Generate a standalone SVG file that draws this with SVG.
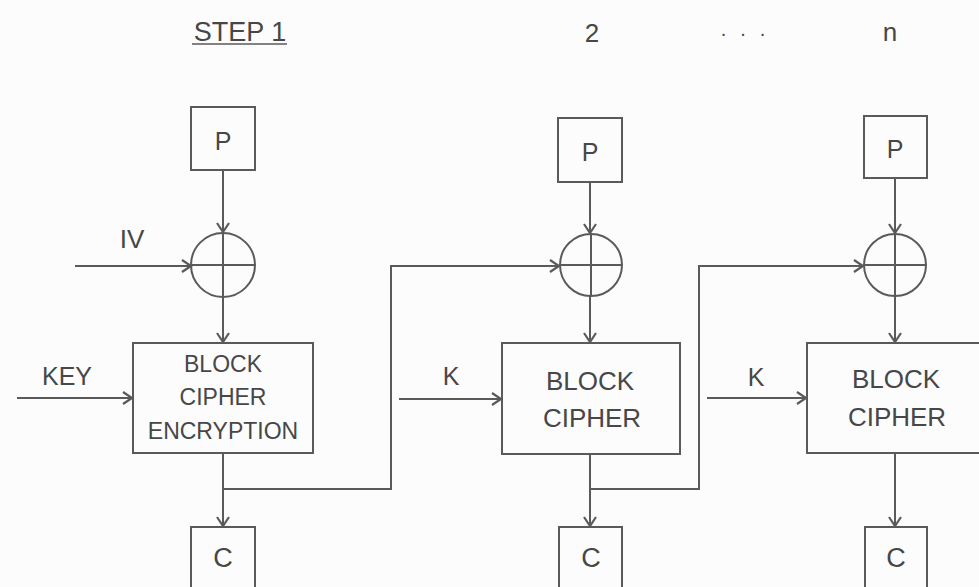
<svg xmlns="http://www.w3.org/2000/svg" width="979" height="587" viewBox="0 0 979 587">
<style>
.bx{fill:none;stroke:#5a5a5a;stroke-width:2}
.ln{fill:none;stroke:#5a5a5a;stroke-width:2}
.t{font-family:"Liberation Sans",Arial,sans-serif;fill:#474747;text-anchor:middle}
</style>
<defs>
<marker id="ah" markerUnits="userSpaceOnUse" markerWidth="14" markerHeight="14" refX="10" refY="7" orient="auto">
<path d="M1,1 L10,7 L1,13" fill="none" stroke="#5a5a5a" stroke-width="2.2"/>
</marker>
</defs>
<rect width="979" height="587" fill="#fcfcfc"/>
<g id="headers">
<text class="t" x="240" y="41" font-size="27">STEP 1</text>
<line x1="192" y1="44" x2="287" y2="44" stroke="#5a5a5a" stroke-width="1.5"/>
<text class="t" x="592" y="42" font-size="26">2</text>
<text class="t" x="750" y="36" font-size="20" letter-spacing="14">...</text>
<text class="t" x="890" y="41" font-size="26">n</text>
</g>
<g id="p1"><rect class="bx" x="191" y="107" width="64" height="63"/><text class="t" x="223" y="150" font-size="25">P</text></g>
<g id="p2"><rect class="bx" x="558" y="118" width="64" height="64"/><text class="t" x="590" y="161" font-size="25">P</text></g>
<g id="p3"><rect class="bx" x="864" y="116" width="63" height="62"/><text class="t" x="895" y="158" font-size="25">P</text></g>
<g id="x1"><circle class="bx" cx="223" cy="265" r="32"/><line class="ln" x1="191" y1="265" x2="255" y2="265"/><line class="ln" x1="223" y1="233" x2="223" y2="297"/></g>
<g id="x2"><circle class="bx" cx="591" cy="265" r="31"/><line class="ln" x1="560" y1="265" x2="622" y2="265"/><line class="ln" x1="591" y1="234" x2="591" y2="296"/></g>
<g id="x3"><circle class="bx" cx="895" cy="265" r="31"/><line class="ln" x1="864" y1="265" x2="926" y2="265"/><line class="ln" x1="895" y1="234" x2="895" y2="296"/></g>
<g id="b1"><rect class="bx" x="133" y="343" width="180" height="110"/>
<text class="t" x="223" y="372" font-size="23">BLOCK</text>
<text class="t" x="223" y="405" font-size="23">CIPHER</text>
<text class="t" x="223" y="439" font-size="23">ENCRYPTION</text></g>
<g id="b2"><rect class="bx" x="502" y="343" width="178" height="111"/>
<text class="t" x="590" y="390" font-size="26">BLOCK</text>
<text class="t" x="592" y="427" font-size="26">CIPHER</text></g>
<g id="b3"><rect class="bx" x="807" y="343" width="180" height="110"/>
<text class="t" x="896" y="388" font-size="26">BLOCK</text>
<text class="t" x="897" y="426" font-size="26">CIPHER</text></g>
<g id="c1"><rect class="bx" x="191" y="527" width="64" height="70"/><text class="t" x="223" y="567" font-size="27">C</text></g>
<g id="c2"><rect class="bx" x="559" y="527" width="63" height="70"/><text class="t" x="591" y="567" font-size="27">C</text></g>
<g id="c3"><rect class="bx" x="865" y="527" width="62" height="70"/><text class="t" x="896" y="567" font-size="27">C</text></g>
<g id="labels">
<text class="t" x="132" y="248" font-size="26">IV</text>
<text class="t" x="67" y="385" font-size="25">KEY</text>
<text class="t" x="451" y="385" font-size="25">K</text>
<text class="t" x="756" y="386" font-size="25">K</text>
</g>
<g id="connectors">
<line class="ln" x1="223" y1="170" x2="223" y2="232" marker-end="url(#ah)"/>
<line class="ln" x1="75" y1="266" x2="191" y2="266" marker-end="url(#ah)"/>
<line class="ln" x1="223" y1="297" x2="223" y2="342" marker-end="url(#ah)"/>
<line class="ln" x1="17" y1="398" x2="132" y2="398" marker-end="url(#ah)"/>
<line class="ln" x1="223" y1="453" x2="223" y2="526" marker-end="url(#ah)"/>
<polyline class="ln" points="223,489 391,489 391,266 559,266" marker-end="url(#ah)"/>
<line class="ln" x1="590" y1="182" x2="590" y2="233" marker-end="url(#ah)"/>
<line class="ln" x1="590" y1="296" x2="590" y2="342" marker-end="url(#ah)"/>
<line class="ln" x1="399" y1="399" x2="501" y2="399" marker-end="url(#ah)"/>
<line class="ln" x1="590" y1="454" x2="590" y2="526" marker-end="url(#ah)"/>
<polyline class="ln" points="590,489 699,489 699,266 863,266" marker-end="url(#ah)"/>
<line class="ln" x1="895" y1="178" x2="895" y2="233" marker-end="url(#ah)"/>
<line class="ln" x1="895" y1="296" x2="895" y2="342" marker-end="url(#ah)"/>
<line class="ln" x1="707" y1="398" x2="806" y2="398" marker-end="url(#ah)"/>
<line class="ln" x1="895" y1="453" x2="895" y2="526" marker-end="url(#ah)"/>
</g>
</svg>
